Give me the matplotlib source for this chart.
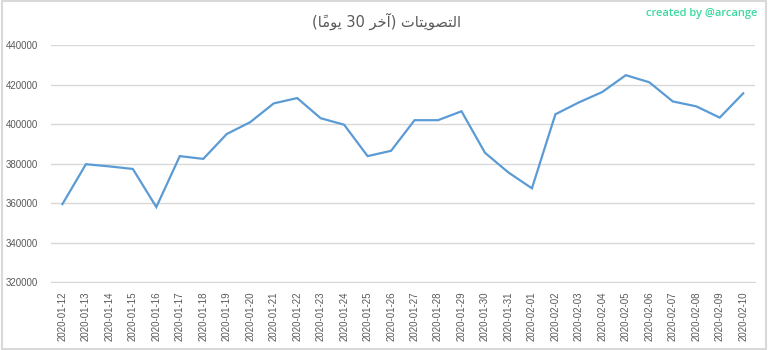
import matplotlib
matplotlib.use("Agg")
import matplotlib.pyplot as plt
from matplotlib.patches import Rectangle

# Données
dates = ["2020-01-12", "2020-01-13", "2020-01-14", "2020-01-15", "2020-01-16",
         "2020-01-17", "2020-01-18", "2020-01-19", "2020-01-20", "2020-01-21",
         "2020-01-22", "2020-01-23", "2020-01-24", "2020-01-25", "2020-01-26",
         "2020-01-27", "2020-01-28", "2020-01-29", "2020-01-30", "2020-01-31",
         "2020-02-01", "2020-02-02", "2020-02-03", "2020-02-04", "2020-02-05",
         "2020-02-06", "2020-02-07", "2020-02-08", "2020-02-09", "2020-02-10"]
votes = [359500, 379700, 378600, 377300, 358000,
         383800, 382400, 395000, 401000, 410500,
         413200, 403000, 399700, 383800, 386500,
         402000, 402000, 406500, 385500, 375500,
         367500, 405000, 411000, 416300, 424800,
         421200, 411500, 409000, 403300, 415600]
yticks = [320000, 340000, 360000, 380000, 400000, 420000, 440000]

# Titre arabe : formes de présentation, ordre visuel (pas de mise en forme dans matplotlib)
mot_yawman = "\uFE8E\u064B\uFEE3\uFEEE\uFEF3"          # يومًا
mot_akhir = "\uFEAE\uFEA7\uFE81"                      # آخر
mot_tasw = "\uFE95\uFE8E\uFE98\uFEF3\uFEEE\uFEBC\uFE98\uFEDF\uFE8D"  # التصويتات
titre = "(" + mot_yawman + " 30 " + mot_akhir + ") " + mot_tasw

gris = "#595959"

fig = plt.figure(figsize=(7.68, 3.5), dpi=100)
ax = fig.add_axes([0.066, 0.194, 0.917, 0.677])

x = list(range(len(dates)))
ax.plot(x, votes, color="#5B9BD5", linewidth=1.6, solid_joinstyle="miter")

ax.set_xlim(-0.5, len(dates) - 0.5)
ax.set_ylim(320000, 440000)
ax.set_yticks(yticks)
ax.set_yticklabels([str(v) for v in yticks], fontsize=7, color=gris,
                   family="Liberation Sans")
ax.set_xticks(x)
ax.set_xticklabels(dates, rotation=90, fontsize=7, color=gris,
                   family="Liberation Sans")
ax.tick_params(axis="x", length=0, pad=7)
ax.tick_params(axis="y", length=0, pad=9)

ax.grid(axis="y", color="#d9d9d9", linewidth=1)
ax.set_axisbelow(True)
for s in ["top", "right", "left"]:
    ax.spines[s].set_visible(False)
ax.spines["bottom"].set_color("#d9d9d9")

fig.text(0.503, 0.94, titre, ha="center", va="center", fontsize=10.5,
         color=gris, family="DejaVu Sans")
fig.text(0.986, 0.962, "created by @arcange", ha="right", va="center",
         fontsize=8, color="#3dd9a0", family="Open Sans", fontweight="semibold")

# cadre gris autour de l'image
fig.patches.append(Rectangle((0.002, 0.004), 0.995, 0.992, transform=fig.transFigure,
                             fill=False, edgecolor="#d9d9d9", linewidth=1.5))

fig.savefig("out.png", dpi=100)
